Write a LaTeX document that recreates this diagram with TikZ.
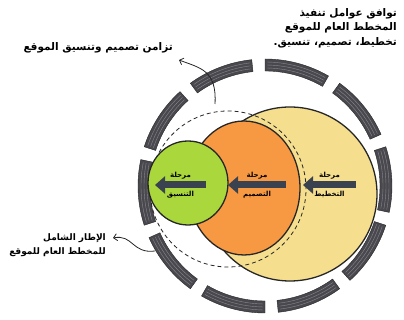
\documentclass[tikz,border=0pt]{standalone}
\usepackage{fontspec}
\newfontfamily\arabicfont[Script=Arabic, BoldFont={DejaVu Sans Bold}]{DejaVu Sans}
\TeXXeTstate=1
\usetikzlibrary{arrows.meta}
\usetikzlibrary{positioning}
\definecolor{mgreen}{RGB}{170,216,60}
\definecolor{morange}{RGB}{247,153,66}
\definecolor{myellow}{RGB}{246,222,143}
\definecolor{mring}{RGB}{72,72,78}
\definecolor{marrow}{RGB}{58,66,80}
\tikzset{note/.style = {font=\arabicfont\bfseries\fontsize{10.5}{14.5}\selectfont,
                        align=right, inner sep=1pt},
         smallnote/.style = {note, font=\arabicfont\bfseries\fontsize{9}{14}\selectfont},
         stagetext/.style = {font=\arabicfont\bfseries\fontsize{7}{8}\selectfont,
                             inner sep=0.5pt},
         flow/.style = {marrow, line width=7pt, -{Triangle[width=17pt, length=10pt]}},
         leader/.style = {thick, black!85, {Straight Barb[length=3.5pt, width=7pt]}-},
         zone/.style = {draw=black!85, line width=1.3pt}}

\begin{document}
\begin{tikzpicture}[x=1pt, y=1pt]
    \useasboundingbox (0, 0) rectangle (404, 320);

    % segmented outer ring
    \begin{scope}[shift={(265, 134)}]
      \foreach \a in {0, 36, ..., 324} {
        \filldraw [mring, draw=black!85] ({\a+60}:127) arc [start angle=\a+60, end angle=\a+90, radius=127]
          -- ({\a+90}:115) arc [start angle=\a+90, end angle=\a+60, radius=115] -- cycle;
        \foreach \r in {118, 121, 124}
          \draw [white!35!mring, line width=0.4pt] ({\a+61}:\r) arc [start angle=\a+61, end angle=\a+89, radius=\r];
      }
    \end{scope}

    % zones
    \filldraw [zone, fill=myellow] (290, 126) circle [radius=87];
    \draw [black!85, thick, dash pattern=on 4pt off 3pt] (228, 131) circle [radius=78];
    \filldraw [zone, fill=morange] (244, 132) ellipse [x radius=56, y radius=67];
    \filldraw [zone, fill=mgreen] (188, 137) ellipse [x radius=40, y radius=42];

    % flow arrows
    \coordinate (gtail) at (206, 135);
    \coordinate (ghead) at (155, 135);
    \coordinate (otail) at (286, 135);
    \coordinate (ohead) at (228, 135);
    \coordinate (ytail) at (356, 135);
    \coordinate (yhead) at (303, 135);
    \draw [flow] (gtail) -- (ghead);
    \draw [flow] (otail) -- (ohead);
    \draw [flow] (ytail) -- (yhead);
    \path (gtail) -- (ghead) node [midway, above=5pt, stagetext] (gtop) {\beginR مرحلة\endR}
                             node [midway, below=5pt, stagetext] (gbot) {\beginR التنسيق\endR};
    \path (otail) -- (ohead) node [midway, above=5pt, stagetext] (otop) {\beginR مرحلة\endR}
                             node [midway, below=5pt, stagetext] (obot) {\beginR التصميم\endR};
    \path (ytail) -- (yhead) node [midway, above=5pt, stagetext] (ytop) {\beginR مرحلة\endR}
                             node [midway, below=5pt, stagetext] (ybot) {\beginR التخطيط\endR};

    % notes
    \node [note, anchor=east] (factors) at (398, 292)
      {\beginR توافق عوامل تنفيذ\endR\\ \beginR المخطط العام للموقع\endR\\ \beginR تخطيط، تصميم، تنسيق.\endR};
    \node [note, anchor=east] (sync) at (174, 272) {\beginR تزامن تصميم وتنسيق الموقع\endR};
    \node [smallnote, anchor=east] (frame) at (107, 75)
      {\beginR الإطار الشامل\endR\\ \beginR للمخطط العام للموقع\endR};

    % leaders
    \coordinate [below right=12pt and 5pt of sync.east] (synctip);
    \coordinate (ringtop) at (215, 216);
    \draw [leader] (synctip) .. controls (200, 252) and (217, 250) .. (ringtop);
    \coordinate [above right=7pt and 6pt of frame.east] (frametip);
    \coordinate (ringleft) at (155, 69);
    \draw [leader] (frametip) .. controls (133, 86) and (132, 66) .. (ringleft);
\end{tikzpicture}
\end{document}
